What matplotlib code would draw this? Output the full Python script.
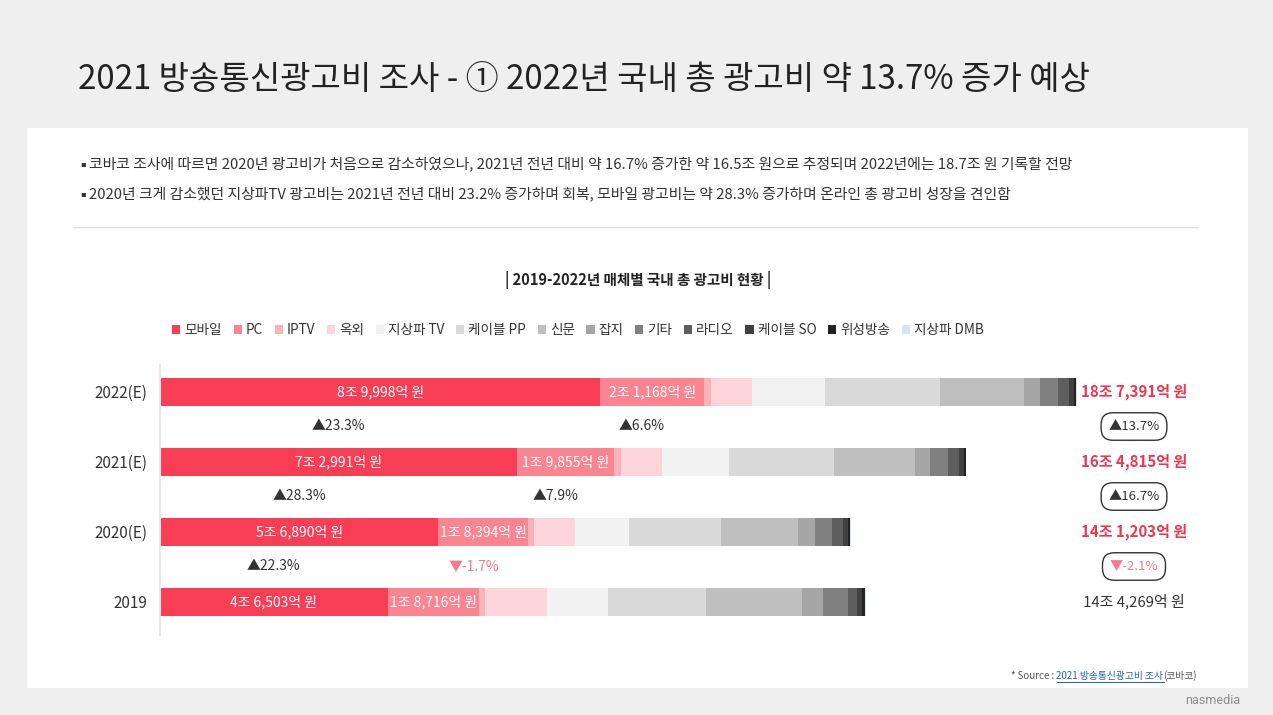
import matplotlib
matplotlib.use("Agg")
import matplotlib.pyplot as plt
from matplotlib.patches import Rectangle, Patch
import numpy as np

plt.rcParams['font.family'] = ['Noto Sans CJK KR', 'DejaVu Sans']

## Data ------------------------------------------------------------------------
years = ['2019', '2020(E)', '2021(E)', '2022(E)']
media = ['모바일', 'PC', 'IPTV', '옥외', '지상파 TV', '케이블 PP', '신문', '잡지',
         '기타', '라디오', '케이블 SO', '위성방송', '지상파 DMB']
colors = ['#f73e55', '#fa8591', '#fbb3bb', '#fdd4d9', '#f2f2f2', '#d9d9d9', '#bfbfbf',
          '#a6a6a6', '#808080', '#5e5e5e', '#404040', '#222222', '#d9e3f0']

# 억 원, in the order of media
ad_2019 = [46503, 18716, 1200, 12770, 12470, 19990, 19530, 4290, 5110, 1840, 1140, 610, 100]
ad_2020 = [56890, 18394, 1200, 8240, 11120, 18729, 15900, 3370, 3580, 2170, 980, 530, 100]
ad_2021 = [72991, 19855, 1299, 8380, 13690, 21530, 16550, 2980, 3760, 2350, 920, 410, 100]
ad_2022 = [89998, 21168, 1500, 8280, 14920, 23525, 17170, 3370, 3580, 2250, 1020, 510, 100]
totals = [144269, 141203, 164815, 187391]

mobile_growth = [22.3, 28.3, 23.3]   # 2019->2020, 2020->2021, 2021->2022
pc_growth = [-1.7, 7.9, 6.6]
total_growth = [-2.1, 16.7, 13.7]

title = '2021 방송통신광고비 조사 - ① 2022년 국내 총 광고비 약 13.7% 증가 예상'
bullets = ['코바코 조사에 따르면 2020년 광고비가 처음으로 감소하였으나, 2021년 전년 대비 약 16.7% 증가한 약 16.5조 원으로 추정되며 2022년에는 18.7조 원 기록할 전망',
           '2020년 크게 감소했던 지상파TV 광고비는 2021년 전년 대비 23.2% 증가하며 회복, 모바일 광고비는 약 28.3% 증가하며 온라인 총 광고비 성장을 견인함']
chart_title = '| 2019-2022년 매체별 국내 총 광고비 현황 |'

## Helpers ---------------------------------------------------------------------
W, H = 1273, 715
RED = '#f0354f'
DARK = '#333333'
PINK = '#f47c8a'


def fx(x):
    return x / W


def fy(y):
    return 1 - y / H


def won(v):
    return '{}조 {:,}억 원'.format(v // 10000, v % 10000)


def growth(g):
    if g >= 0:
        return '▲{:.1f}%'.format(g), DARK
    return '▼-{:.1f}%'.format(abs(g)), PINK


## Figure ----------------------------------------------------------------------
fig = plt.figure(figsize=(W / 100, H / 100), dpi=100)
fig.patch.set_facecolor('#efefef')
fig.patches.append(Rectangle((fx(27), fy(688)), fx(1248 - 27), (688 - 128) / H,
                             transform=fig.transFigure, fc='white', ec='none', zorder=-5))

fig.text(fx(78), fy(80), title, fontsize=23.8, color='#222222', va='center', ha='left')

for i, b in enumerate(bullets):
    yy = fy(164 + 30 * i)
    fig.text(fx(80), yy, '▪', fontsize=6, color='#333333', va='center',
             family=['DejaVu Sans'])
    fig.text(fx(89), yy, b, fontsize=10.7, color='#333333', va='center')

fig.lines.append(plt.Line2D([fx(73), fx(1198)], [fy(227), fy(227)], transform=fig.transFigure,
                            color='#dddddd', lw=1))

fig.text(fx(638), fy(280), chart_title, fontsize=10.5, fontweight='bold', color='#222222',
         ha='center', va='center')

# legend
handles = [Patch(fc=c, ec='none', label=m) for m, c in zip(media, colors)]
fig.legend(handles=handles, loc='center', bbox_to_anchor=(fx(578), fy(330)), ncol=len(media),
           frameon=False, fontsize=9.8, handlelength=0.6, handleheight=0.6,
           handletextpad=0.3, columnspacing=0.85, labelcolor='#333333')

## Bars ------------------------------------------------------------------------
px_per = 0.004893  # px per 억
ax = fig.add_axes([fx(160), fy(635), fx(1200 - 160), (635 - 365) / H])
ax.set_xlim(0, (1200 - 160) / px_per)
ax.set_ylim(-(635 - 601.5) / 70, (601.5 - 365) / 70)
ax.patch.set_alpha(0)
for s in ['top', 'right', 'bottom']:
    ax.spines[s].set_visible(False)
ax.spines['left'].set_color('#e8e8e8')
ax.spines['left'].set_linewidth(1.5)
ax.set_xticks([])
ax.set_yticks(range(len(years)))
ax.set_yticklabels(years, fontsize=11, color='#333333')
ax.tick_params(axis='y', length=0, pad=9)

data = np.array([ad_2019, ad_2020, ad_2021, ad_2022])
yy = np.arange(len(years))
left = np.zeros(len(years))
for j in range(len(media)):
    ax.barh(yy, data[:, j], left=left, height=0.4, color=colors[j], edgecolor='none')
    left += data[:, j]

for i in range(len(years)):
    mob, pc = data[i, 0], data[i, 1]
    ax.text(mob / 2, yy[i], won(mob), color='white', fontsize=10, ha='center', va='center')
    ax.text(mob + pc / 2, yy[i], won(pc), color='white', fontsize=10, ha='center', va='center')

# growth labels between bars
for i in range(len(years) - 1):
    ymid = yy[i] + 0.5
    t, c = growth(mobile_growth[i])
    ax.text(data[i, 0] / 2, ymid, t, color=c, fontsize=10, ha='center', va='center')
    t, c = growth(pc_growth[i])
    ax.text(data[i + 1, 0] + data[i + 1, 1] * 0.4, ymid, t, color=c, fontsize=10,
            ha='center', va='center')

# totals on the right
for i in range(len(years)):
    yp = 601.5 - 70 * i
    if i == 0:
        fig.text(fx(1134), fy(yp), won(totals[i]), fontsize=10.8, color='#333333',
                 ha='center', va='center')
    else:
        fig.text(fx(1134), fy(yp), won(totals[i]), fontsize=10.8, color=RED, fontweight='bold',
                 ha='center', va='center')
for i in range(len(years) - 1):
    yp = 601.5 - 70 * i - 35
    t, c = growth(total_growth[i])
    fig.text(fx(1134), fy(yp), t, fontsize=9.5, color=c, ha='center', va='center',
             bbox=dict(boxstyle='round,pad=0.55,rounding_size=0.9', fc='white', ec='#333333', lw=1))

## Source / logo ---------------------------------------------------------------
fig.canvas.draw()
r = fig.canvas.get_renderer()
x_end = fx(1197)
y_src = fy(676)
t3 = fig.text(x_end, y_src, '(코바코)', fontsize=7, color='#555555', ha='right', va='center')
w3 = t3.get_window_extent(r).width / W
t2 = fig.text(x_end - w3, y_src, '2021 방송통신광고비 조사', fontsize=7, color='#1f5fbf',
              ha='right', va='center')
bb2 = t2.get_window_extent(r)
fig.lines.append(plt.Line2D([bb2.x0 / W, bb2.x1 / W], [fy(682), fy(682)],
                            transform=fig.transFigure, color='#1f5fbf', lw=0.7))
fig.text(bb2.x0 / W, y_src, '* Source : ', fontsize=7, color='#555555', ha='right', va='center')

fig.text(fx(1240), fy(701), 'nasmedia', fontsize=9, color='#8c8c8c', ha='right', va='center',
         family=['Roboto', 'DejaVu Sans'])

fig.savefig('out.png', dpi=100, facecolor=fig.get_facecolor())
